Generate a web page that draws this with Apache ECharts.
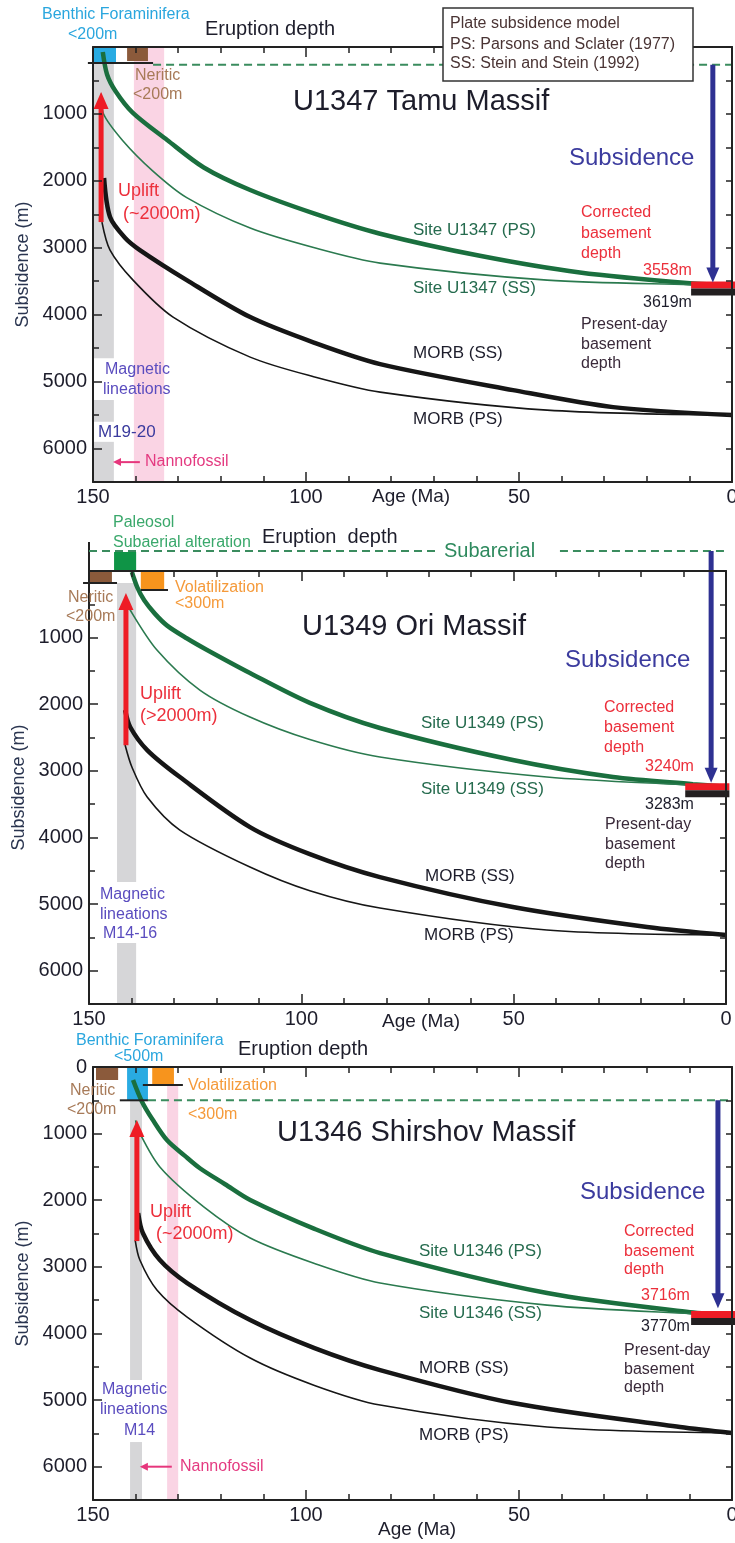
<!DOCTYPE html>
<html><head><meta charset="utf-8">
<script src="https://cdn.jsdelivr.net/npm/echarts@6/dist/echarts.min.js"></script>
<style>html,body{margin:0;padding:0;background:#fff}#c{width:735px;height:1543px}</style>
</head><body><div id="c"></div>
<script>
// ---------------- DATA (age Ma, depth m) ----------------
// Panel 1: U1347 Tamu Massif
const U1347_SITE_PS = [[147.7,75],[146.7,410],[144.7,660],[140.7,980],[132.6,1390],[124.0,1800],[113.1,2137],[98.0,2490],[82.6,2790],[59.2,3120],[35.7,3370],[9.9,3530],[0,3558]];
const U1347_SITE_SS = [[148.1,700],[147.6,990],[143.0,1400],[136.0,1850],[128.0,2250],[113.1,2705],[98.0,3000],[82.6,3229],[43.4,3483],[9.9,3550],[0,3558]];
const U1347_MORB_SS = [[147.4,1958],[146.0,2541],[142.5,2850],[139.0,3034],[128.0,3483],[113.1,4036],[98.0,4420],[82.6,4738],[51.4,5127],[27.9,5381],[0,5500]];
const U1347_MORB_PS = [[147.9,2616],[146.0,3034],[140.6,3483],[131.2,4036],[113.1,4634],[98.0,4930],[82.6,5157],[43.4,5426],[0,5500]];
const U1347_BASEMENT = [3558, 3619];   // corrected, present-day

// Panel 2: U1349 Ori Massif
const U1349_SITE_PS = [[139.9,15],[138.6,250],[137.0,440],[134.5,640],[131.6,820],[127.0,1010],[122.2,1186],[112.1,1532],[98.0,1980],[81.5,2357],[50.2,2838],[26.6,3093],[7.8,3200],[0,3240]];
const U1349_SITE_SS = [[141.0,450],[140.3,586],[134.0,1186],[123.9,1787],[112.1,2192],[98.0,2530],[81.5,2793],[42.2,3093],[7.8,3215],[0,3240]];
const U1349_MORB_SS = [[141.5,2087],[140.3,2342],[136.3,2688],[128.6,3093],[112.1,3844],[98.0,4250],[81.5,4595],[50.2,5045],[18.6,5345],[0,5465]];
const U1349_MORB_PS = [[141.5,2613],[139.9,2943],[136.3,3393],[128.6,3889],[112.1,4444],[98.0,4800],[81.5,5060],[42.2,5390],[0,5465]];
const U1349_BASEMENT = [3240, 3283];

// Panel 3: U1346 Shirshov Massif
const U1346_SITE_PS = [[140.6,195],[138.5,520],[135.9,800],[132.6,1100],[128.5,1330],[124.9,1520],[119.0,1760],[113.1,1997],[98.0,2430],[82.6,2793],[43.4,3393],[9.9,3680],[0,3716]];
const U1346_SITE_SS = [[140.0,800],[139.4,946],[134.3,1502],[124.0,2100],[113.1,2568],[98.0,2950],[82.6,3243],[43.4,3574],[9.9,3700],[0,3716]];
const U1346_MORB_SS = [[139.4,2192],[138.3,2492],[134.3,2898],[127.9,3243],[113.1,3799],[98.0,4220],[82.6,4550],[51.4,5045],[12.2,5405],[0,5495]];
const U1346_MORB_PS = [[140.1,2598],[139.0,2898],[135.0,3348],[127.9,3754],[113.1,4369],[98.0,4780],[82.6,5075],[43.4,5405],[0,5495]];
const U1346_BASEMENT = [3716, 3770];

// Annotation boxes [ageFrom, ageTo, depthTop, depthBottom, kind]
const U1347_BOXES = [[140.4,133.3,0,6500,'pink'],[149.8,144.6,0,240,'benthic'],[142.0,137.1,0,210,'neritic'],
  [149.8,145.1,240,4650,'gray'],[149.8,145.1,5275,5600,'gray'],[149.8,145.1,5900,6500,'gray']];
const U1349_BOXES = [[144.1,138.9,-285,0,'paleosol'],[150,144.6,0,180,'neritic'],[137.8,132.3,0,270,'orange'],
  [143.4,138.9,180,4670,'gray'],[143.4,138.9,5585,6500,'gray']];
const U1346_BOXES = [[132.6,130.0,255,6500,'pink'],[149.3,144.1,0,195,'neritic'],[142.0,137.1,0,500,'benthic'],[136.1,131.0,0,255,'orange'],
  [141.3,138.5,500,4700,'gray'],[141.3,138.5,5630,6500,'gray']];

// Segments [age0, depth0, age1, depth1, kind]
const U1347_SEGS = [[151.2,240,135.9,240,'black'],[135.9,265,0,265,'dash']];
const U1349_SEGS = [[150,-435,150,0,'black'],[150,-300,67.8,-300,'dash'],[39.1,-300,-0.2,-300,'dash'],
  [151.4,180,143.4,180,'black'],[137.8,285,131.4,285,'black']];
const U1346_SEGS = [[143.7,500,137.1,500,'black'],[138.3,270,128.9,270,'black'],[137.1,500,0,500,'dash']];

// Arrows [age0, depth0, age1, depth1, kind]
const U1347_ARROWS = [[148.1,2616,148.1,673,'uplift'],[4.5,265,4.5,3520,'subs'],[139.0,6203,145.3,6203,'nanno']];
const U1349_ARROWS = [[141.3,2615,141.3,330,'uplift'],[3.5,-300,3.5,3180,'subs']];
const U1346_ARROWS = [[139.7,2613,139.7,796,'uplift'],[3.3,500,3.3,3620,'subs'],[131.5,6000,139.0,6000,'nanno']];

// ---------------- STYLE ----------------
const FONT = '"Liberation Sans", Arial, Helvetica, sans-serif';
const INK = '#1d1d2b';
const C = {blueT:'#2aa6de', brownT:'#a77a58', redT:'#ec2f3b', greenT:'#256b4e', navyT:'#3b3b9e', purple:'#5a4cbf',
  pinkT:'#e43a80', orangeT:'#f59a3a', paleoT:'#3aa86b', legend:'#4a3434', pd:'#3a2a3a'};
const BOX_FILL = {benthic:'#29abe2', neritic:'#8b5a3b', pink:'#fad4e4', gray:'#d6d6d8', orange:'#f7941d', paleosol:'#0f9446'};
const SEG_STYLE = {black:{stroke:'#222',lineWidth:2}, dash:{stroke:'#3a8c5e',lineWidth:2,lineDash:[8,5]}};
const ARROW_STYLE = {uplift:{c:'#ee1c25',w:5,hl:17,hw:15}, subs:{c:'#2e3192',w:5,hl:15,hw:13}, nanno:{c:'#e6367c',w:2,hl:8,hw:8}};

const PANELS = [
  {grid:{left:93, top:47, width:639, height:435}, zero:false,
   curves:[U1347_SITE_PS,U1347_SITE_SS,U1347_MORB_SS,U1347_MORB_PS], basement:U1347_BASEMENT,
   boxes:U1347_BOXES, segs:U1347_SEGS, arrows:U1347_ARROWS},
  {grid:{left:89, top:571, width:637, height:433}, zero:false,
   curves:[U1349_SITE_PS,U1349_SITE_SS,U1349_MORB_SS,U1349_MORB_PS], basement:U1349_BASEMENT,
   boxes:U1349_BOXES, segs:U1349_SEGS, arrows:U1349_ARROWS},
  {grid:{left:93, top:1067, width:639, height:433}, zero:true,
   curves:[U1346_SITE_PS,U1346_SITE_SS,U1346_MORB_SS,U1346_MORB_PS], basement:U1346_BASEMENT,
   boxes:U1346_BOXES, segs:U1346_SEGS, arrows:U1346_ARROWS}
];
const CURVE_STYLE = [{c:'#1a6f3e',w:4.5},{c:'#2b7a4f',w:1.6},{c:'#161616',w:4.5},{c:'#161616',w:1.6}];

const LABELS = [
 // panel 1
 ['Benthic Foraminifera',42,15,16,C.blueT],['<200m',68,35,16,C.blueT],['Eruption depth',205,29,20,INK],
 ['Plate subsidence model',450,24,16,C.legend],['PS: Parsons and Sclater (1977)',450,45,16,C.legend],['SS: Stein and Stein (1992)',450,64,16,C.legend],
 ['Neritic',135,76,16,C.brownT],['<200m',133,95,16,C.brownT],['U1347 Tamu Massif',293,102,29,INK],
 ['Subsidence',569,158,24,C.navyT],['Uplift',118,191,18,C.redT],['(~2000m)',123,214,18,C.redT],
 ['Site U1347 (PS)',413,230,17,C.greenT],['Corrected',581,213,16,C.redT],['basement',581,234,16,C.redT],['depth',581,254,16,C.redT],
 ['3558m',643,271,16,C.redT],['Site U1347 (SS)',413,288,17,C.greenT],['3619m',643,303,16,INK],
 ['Present-day',581,325,16,C.pd],['basement',581,345,16,C.pd],['depth',581,364,16,C.pd],
 ['MORB (SS)',413,353,17,INK],['Magnetic',105,370,16,C.purple],['lineations',103,390,16,C.purple],
 ['MORB (PS)',413,419,17,INK],['M19-20',98,432,17,C.navyT],['Nannofossil',145,462,16,C.pinkT],['Age (Ma)',372,497,19,INK],
 // panel 2
 ['Paleosol',113,523,16,C.paleoT],['Subaerial alteration',113,543,16,C.paleoT],['Eruption  depth',262,537,20,INK],
 ['Subarerial',444,551,20,'#2e8a5e'],['Volatilization',175,588,16,C.orangeT],['<300m',175,604,16,C.orangeT],
 ['Neritic',68,598,16,C.brownT],['<200m',66,617,16,C.brownT],['U1349 Ori Massif',302,627,29,INK],
 ['Subsidence',565,660,24,C.navyT],['Uplift',140,694,18,C.redT],['(>2000m)',140,716,18,C.redT],
 ['Corrected',604,708,16,C.redT],['basement',604,728,16,C.redT],['depth',604,748,16,C.redT],
 ['Site U1349 (PS)',421,723,17,C.greenT],['3240m',645,767,16,C.redT],['Site U1349 (SS)',421,789,17,C.greenT],
 ['3283m',645,805,16,INK],['Present-day',605,825,16,C.pd],['basement',605,845,16,C.pd],['depth',605,864,16,C.pd],
 ['MORB (SS)',425,876,17,INK],['Magnetic',100,895,16,C.purple],['lineations',100,915,16,C.purple],['M14-16',103,934,16,C.purple],
 ['MORB (PS)',424,935,17,INK],['Age (Ma)',382,1022,19,INK],
 // panel 3
 ['Benthic Foraminifera',76,1041,16,C.blueT],['<500m',114,1057,16,C.blueT],['Eruption depth',238,1049,20,INK],
 ['Neritic',70,1091,16,C.brownT],['<200m',67,1110,16,C.brownT],['Volatilization',188,1086,16,C.orangeT],['<300m',188,1115,16,C.orangeT],
 ['U1346 Shirshov Massif',277,1133,29,INK],['Subsidence',580,1192,24,C.navyT],
 ['Uplift',150,1212,18,C.redT],['(~2000m)',156,1234,18,C.redT],
 ['Corrected',624,1232,16,C.redT],['basement',624,1252,16,C.redT],['depth',624,1270,16,C.redT],
 ['Site U1346 (PS)',419,1251,17,C.greenT],['3716m',641,1296,16,C.redT],['Site U1346 (SS)',419,1313,17,C.greenT],
 ['3770m',641,1327,16,INK],['Present-day',624,1351,16,C.pd],['basement',624,1370,16,C.pd],['depth',624,1388,16,C.pd],
 ['MORB (SS)',419,1368,17,INK],['Magnetic',102,1390,16,C.purple],['lineations',100,1410,16,C.purple],['M14',124,1431,16,C.purple],
 ['MORB (PS)',419,1435,17,INK],['Nannofossil',180,1467,16,C.pinkT],['Age (Ma)',378,1530,19,INK]
];

// ---------------- BUILD ----------------
const tickStyle = {color:'#222', width:1.5};
const grids = [], xAxes = [], yAxes = [], series = [];

function drawBox(b, api){
  const a = api.coord([b[0], b[2]]), c = api.coord([b[1], b[3]]);
  return {type:'rect', shape:{x:Math.min(a[0],c[0]), y:Math.min(a[1],c[1]), width:Math.abs(c[0]-a[0]), height:Math.abs(c[1]-a[1])},
    style:{fill:BOX_FILL[b[4]]}};
}
function drawSeg(s, api){
  const a = api.coord([s[0], s[1]]), b = api.coord([s[2], s[3]]);
  const st = SEG_STYLE[s[4]];
  return {type:'line', shape:{x1:a[0],y1:a[1],x2:b[0],y2:b[1]}, style:Object.assign({fill:null}, st)};
}
function drawArrow(s, api){
  const a = api.coord([s[0], s[1]]), b = api.coord([s[2], s[3]]);
  const st = ARROW_STYLE[s[4]];
  const dx = b[0]-a[0], dy = b[1]-a[1], L = Math.hypot(dx,dy), ux = dx/L, uy = dy/L;
  const base = [b[0]-ux*st.hl, b[1]-uy*st.hl], px = -uy, py = ux;
  return {type:'group', children:[
    {type:'line', shape:{x1:a[0],y1:a[1],x2:base[0]+ux*2,y2:base[1]+uy*2}, style:{stroke:st.c,lineWidth:st.w}},
    {type:'polygon', shape:{points:[[b[0],b[1]],[base[0]+px*st.hw/2, base[1]+py*st.hw/2],[base[0]-px*st.hw/2, base[1]-py*st.hw/2]]}, style:{fill:st.c}}
  ]};
}
function drawBasement(v, api){
  const a = api.coord([9.6, v[0]]), b = api.coord([-0.8, v[0]]);
  return {type:'group', children:[
    {type:'rect', shape:{x:a[0], y:a[1]-3.5, width:b[0]-a[0], height:7}, style:{fill:'#ee1c25'}},
    {type:'rect', shape:{x:a[0], y:a[1]+3.5, width:b[0]-a[0], height:7}, style:{fill:'#231f20'}}
  ]};
}
function overlay(p, items, draw, z){
  return {type:'custom', coordinateSystem:'cartesian2d', xAxisIndex:p*2, yAxisIndex:p*3, clip:false, silent:true, z,
    animation:false, data:items.map(()=>[75,3000]), renderItem:(params, api)=>draw(items[params.dataIndex], api)};
}

PANELS.forEach((P, p) => {
  grids.push(Object.assign({containLabel:false, outerBoundsMode:'none'}, P.grid));
  const baseX = {gridIndex:p, type:'value', min:0, max:150, inverse:true, interval:50, z:10,
    axisLine:{onZero:false, lineStyle:{color:'#222', width:2}}, splitLine:{show:false}, minorSplitLine:{show:false},
    axisTick:{inside:true, length:10, lineStyle:tickStyle}, minorTick:{show:true, splitNumber:5, length:6, lineStyle:tickStyle}};
  xAxes.push(Object.assign({}, baseX, {position:'bottom', axisLabel:{fontSize:20, color:INK, fontFamily:FONT, margin:5}}));
  xAxes.push(Object.assign({}, baseX, {position:'top', axisLabel:{show:false}}));
  const baseY = {gridIndex:p, type:'value', min:0, max:6500, inverse:true, splitLine:{show:false}, z:10,
    axisLine:{onZero:false, lineStyle:{color:'#222', width:2}}};
  yAxes.push(Object.assign({}, baseY, {position:'left', interval:1000,
    axisTick:{inside:true, length:9, lineStyle:tickStyle},
    axisLabel:{fontSize:20, color:INK, fontFamily:FONT, margin:6, showMaxLabel:false,
      formatter: v => (v===0 && !P.zero) ? '' : (v>6000 ? '' : String(v))},
    name:'Subsidence (m)', nameLocation:'middle', nameGap:55, nameRotate:90,
    nameTextStyle:{fontSize:18, color:'#2a3550', fontFamily:FONT}}));
  yAxes.push(Object.assign({}, baseY, {position:'left', interval:500, axisLine:{show:false, onZero:false},
    axisTick:{inside:true, length:6, lineStyle:tickStyle}, axisLabel:{show:false}}));
  yAxes.push(Object.assign({}, baseY, {position:'right', interval:500,
    axisTick:{inside:true, length:6, lineStyle:tickStyle}, axisLabel:{show:false}}));

  series.push(overlay(p, P.boxes, drawBox, 1));
  P.curves.forEach((d, k) => {
    series.push({type:'line', data:d, xAxisIndex:p*2, yAxisIndex:p*3, symbol:'none', smooth:0.3,
      silent:true, z:3, animation:false, clip:false, lineStyle:{color:CURVE_STYLE[k].c, width:CURVE_STYLE[k].w}});
  });
  series.push(overlay(p, P.segs, drawSeg, 5));
  series.push(overlay(p, [P.basement], drawBasement, 6));
  series.push(overlay(p, P.arrows, drawArrow, 7));
});

const graphic = [
  {type:'rect', z:50, shape:{x:443, y:8, width:250, height:73}, style:{fill:'#fff', stroke:'#333', lineWidth:1.5}}
].concat(LABELS.map(l => ({type:'text', z:60, x:l[1], y:l[2],
  style:{text:l[0], font:l[3]+'px '+FONT, fill:l[4], textAlign:'left', textVerticalAlign:'middle', verticalAlign:'middle'}})));

const chart = echarts.init(document.getElementById('c'), null, {renderer:'canvas'});
chart.setOption({animation:false, backgroundColor:'#fff', grid:grids, xAxis:xAxes, yAxis:yAxes, series, graphic});
</script></body></html>
